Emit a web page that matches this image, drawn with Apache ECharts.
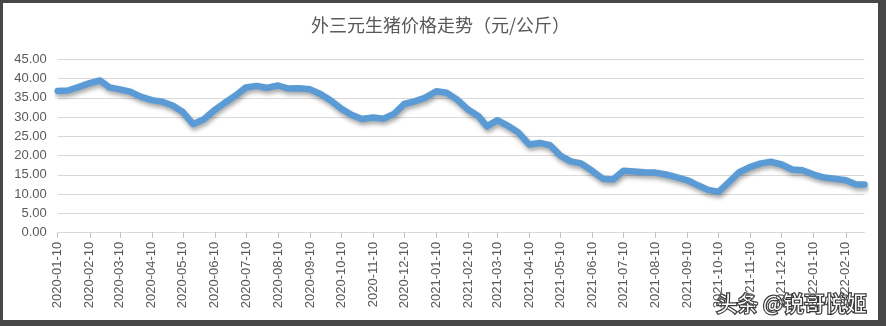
<!DOCTYPE html>
<html>
<head>
<meta charset="utf-8">
<script src="https://cdn.jsdelivr.net/npm/echarts@6/dist/echarts.min.js"></script>
<style>
  html, body { margin: 0; padding: 0; background: #474747; }
  #frame { position: absolute; left: 3px; top: 3px; width: 875px; height: 317px; background: #ffffff; }
  #chart { width: 875px; height: 317px; }
</style>
</head>
<body>
<div id="frame"><div id="chart"></div></div>
<script>
// Sample dates (10th, 20th and month end) and prices in 元/公斤
const sampleDates = [
  '2020-01-10','2020-01-20','2020-01-30','2020-02-10','2020-02-20','2020-02-29',
  '2020-03-10','2020-03-20','2020-03-30','2020-04-10','2020-04-20','2020-04-30',
  '2020-05-10','2020-05-20','2020-05-30','2020-06-10','2020-06-20','2020-06-30',
  '2020-07-10','2020-07-20','2020-07-30','2020-08-10','2020-08-20','2020-08-30',
  '2020-09-10','2020-09-20','2020-09-30','2020-10-10','2020-10-20','2020-10-30',
  '2020-11-10','2020-11-20','2020-11-30','2020-12-10','2020-12-20','2020-12-30',
  '2021-01-10','2021-01-20','2021-01-30','2021-02-10','2021-02-20','2021-02-28',
  '2021-03-10','2021-03-20','2021-03-30','2021-04-10','2021-04-20','2021-04-30',
  '2021-05-10','2021-05-20','2021-05-30','2021-06-10','2021-06-20','2021-06-30',
  '2021-07-10','2021-07-20','2021-07-30','2021-08-10','2021-08-20','2021-08-30',
  '2021-09-10','2021-09-20','2021-09-30','2021-10-10','2021-10-20','2021-10-30',
  '2021-11-10','2021-11-20','2021-11-30','2021-12-10','2021-12-20','2021-12-30',
  '2022-01-10','2022-01-20','2022-01-30','2022-02-10','2022-02-20','2022-02-28'
];
const prices = [
  36.8, 36.9, 37.8, 38.8, 39.5, 37.7,
  37.2, 36.6, 35.3, 34.4, 34.0, 33.0,
  31.3, 28.2, 29.4, 31.9, 33.8, 35.6,
  37.7, 38.1, 37.6, 38.2, 37.4, 37.5,
  37.2, 36.0, 34.3, 32.2, 30.6, 29.5,
  29.9, 29.6, 30.8, 33.4, 34.1, 35.0,
  36.7, 36.3, 34.6, 31.9, 30.2, 27.6,
  29.2, 27.8, 26.1, 22.9, 23.3, 22.7,
  20.0, 18.5, 18.0, 16.0, 14.0, 13.8,
  16.1, 15.9, 15.7, 15.6, 15.1, 14.4,
  13.6, 12.3, 11.1, 10.6, 13.1, 15.7,
  17.1, 18.0, 18.4, 17.7, 16.4, 16.2,
  15.1, 14.3, 14.0, 13.6, 12.5, 12.5
];
const yTicks = [0, 5, 10, 15, 20, 25, 30, 35, 40, 45];
const chartTitle = '外三元生猪价格走势（元/公斤）';
const watermark = '头条 @锐哥悦姬';

// One category per calendar day so the axis spacing follows real dates
function dayList(startStr, endStr) {
  const out = [];
  const s = new Date(startStr + 'T00:00:00Z');
  const e = new Date(endStr + 'T00:00:00Z');
  for (let t = s.getTime(); t <= e.getTime(); t += 86400000) {
    out.push(new Date(t).toISOString().slice(0, 10));
  }
  return out;
}
const days = dayList(sampleDates[0], sampleDates[sampleDates.length - 1]);
const priceByDate = {};
sampleDates.forEach((d, i) => { priceByDate[d] = prices[i]; });
const seriesData = days.map(d => (d in priceByDate ? priceByDate[d] : null));
const isMonthTick = (idx, val) => val.slice(8) === '10';

const chart = echarts.init(document.getElementById('chart'));
chart.setOption({
  animation: false,
  backgroundColor: '#ffffff',
  title: {
    text: chartTitle,
    left: 'center',
    top: 8,
    textStyle: { color: '#595959', fontSize: 18, fontWeight: 'normal', fontFamily: 'Noto Sans CJK SC' }
  },
  grid: { left: 54.7, right: 13.6, top: 56.3, bottom: 87.3 },
  xAxis: {
    type: 'category',
    data: days,
    boundaryGap: false,
    axisLine: { lineStyle: { color: '#d9d9d9', width: 1 } },
    axisTick: { show: true, interval: isMonthTick, length: 5, lineStyle: { color: '#bfbfbf' } },
    axisLabel: {
      interval: isMonthTick,
      rotate: 90,
      margin: 9,
      color: '#595959',
      fontSize: 13,
      fontFamily: 'Liberation Sans'
    },
    splitLine: { show: false }
  },
  yAxis: {
    type: 'value',
    min: yTicks[0],
    max: yTicks[yTicks.length - 1],
    interval: 5,
    axisLine: { show: false },
    axisTick: { show: false },
    axisLabel: {
      margin: 11,
      color: '#595959',
      fontSize: 13,
      fontFamily: 'Liberation Sans',
      formatter: v => v.toFixed(2)
    },
    splitLine: { lineStyle: { color: '#d9d9d9', width: 1 } }
  },
  series: [{
    type: 'line',
    data: seriesData,
    connectNulls: true,
    showSymbol: false,
    symbol: 'none',
    lineStyle: {
      color: '#5b9bd5',
      width: 6.5,
      cap: 'round',
      join: 'round',
      shadowColor: 'rgba(0,0,0,0.35)',
      shadowBlur: 4,
      shadowOffsetX: 1,
      shadowOffsetY: 3
    }
  }],
  graphic: [{
    type: 'text',
    left: 712,
    top: 288,
    style: {
      text: watermark,
      fill: '#ffffff',
      stroke: '#3a3a3a',
      lineWidth: 2.5,
      fontSize: 21,
      fontFamily: 'Noto Sans CJK SC'
    }
  }]
});
</script>
</body>
</html>
